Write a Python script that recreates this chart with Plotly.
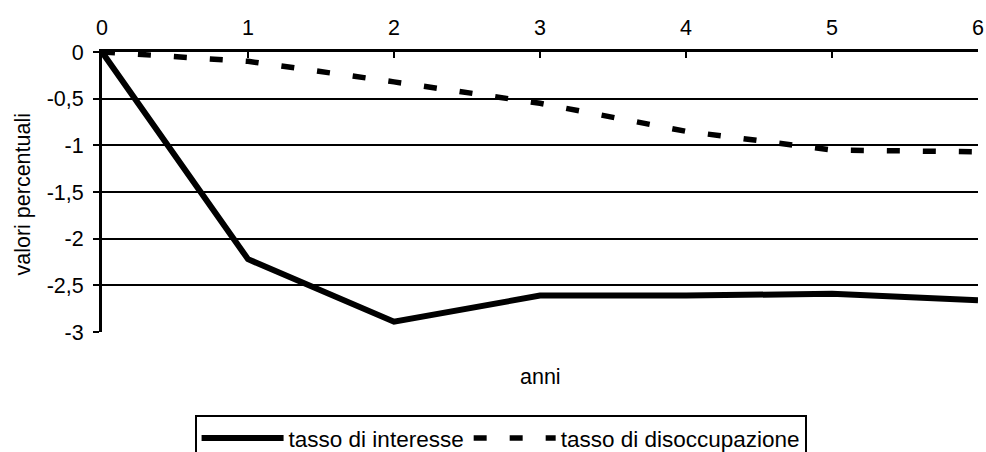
import plotly.graph_objects as go

anni = [0, 1, 2, 3, 4, 5, 6]
tasso_interesse = [0, -2.22, -2.89, -2.61, -2.61, -2.59, -2.66]
tasso_disoccupazione = [0, -0.10, -0.32, -0.55, -0.85, -1.05, -1.07]
y_tickvals = [0, -0.5, -1, -1.5, -2, -2.5, -3]
y_ticktext = ["0", "-0,5", "-1", "-1,5", "-2", "-2,5", "-3"]
x_ticktext = ["0", "1", "2", "3", "4", "5", "6"]

FONT = "Liberation Sans, Arial, sans-serif"

fig = go.Figure()
fig.add_trace(go.Scatter(
    x=anni, y=tasso_interesse, mode="lines", name="tasso di interesse",
    line=dict(color="black", width=6), cliponaxis=False))
fig.add_trace(go.Scatter(
    x=anni, y=tasso_disoccupazione, mode="lines", name="tasso di disoccupazione",
    line=dict(color="black", width=5.5, dash="13px,23px"), cliponaxis=False))

fig.update_layout(
    width=986, height=452,
    margin=dict(l=102, r=8, t=52, b=120, autoexpand=False),
    paper_bgcolor="white", plot_bgcolor="white",
    font=dict(family=FONT, size=21.5, color="black"),
    showlegend=True,
    legend=dict(orientation="h", x=0.455, xanchor="center", y=-0.296, yanchor="top",
                bordercolor="black", borderwidth=2, font=dict(size=22.5),
                itemwidth=82, tracegroupgap=0),
    xaxis=dict(side="top", range=[0, 6], tickvals=anni, ticktext=x_ticktext,
               showline=True, linecolor="black", linewidth=3,
               ticks="inside", ticklen=6, tickwidth=2, tickcolor="black",
               ticklabelstandoff=5,
               showgrid=False, zeroline=False, fixedrange=True),
    yaxis=dict(range=[-3, 0], tickvals=y_tickvals, ticktext=y_ticktext,
               showline=True, linecolor="black", linewidth=3,
               ticks="outside", ticklen=6, tickwidth=2, tickcolor="black",
               ticklabelstandoff=5,
               showgrid=True, gridcolor="black", gridwidth=2,
               zeroline=False, fixedrange=True),
)
fig.add_annotation(text="valori percentuali", textangle=-90,
                   x=-0.0913, xref="paper", xanchor="center",
                   y=0.491, yref="paper", yanchor="middle",
                   showarrow=False, font=dict(size=21.5))
fig.add_annotation(text="anni", x=0.501, xref="paper", y=-0.161, yref="paper",
                   showarrow=False, xanchor="center", yanchor="middle", font=dict(size=21.5))

fig.write_html("out.html", config={"displayModeBar": False},
               post_script="document.body.style.margin='0';")
